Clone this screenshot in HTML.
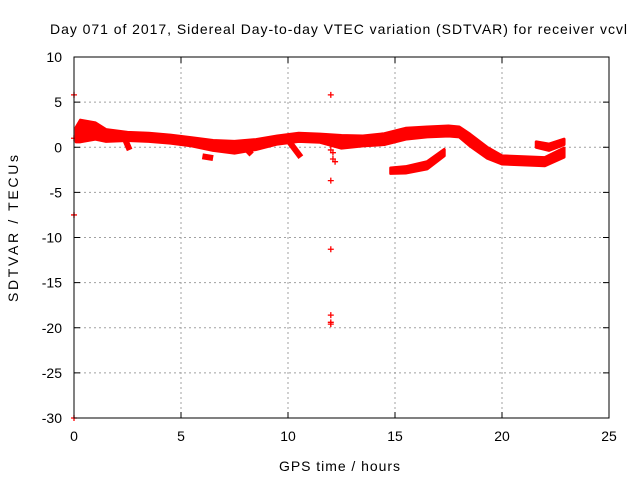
<!DOCTYPE html>
<html><head><meta charset="utf-8"><style>
body{margin:0;background:#fff}
svg text{font-family:"Liberation Sans",sans-serif;font-size:14px;fill:#000}
</style></head><body>
<svg id="chart" width="640" height="480">
<rect width="640" height="480" fill="#fff"/>
<text x="50" y="34" textLength="577" lengthAdjust="spacing">Day 071 of 2017, Sidereal Day-to-day VTEC variation (SDTVAR) for receiver vcvl</text>
<text x="279" y="471" textLength="121" lengthAdjust="spacing">GPS time / hours</text>
<text transform="translate(18,302) rotate(-90)" textLength="147" lengthAdjust="spacing">SDTVAR / TECUs</text>
<g id="grid"></g><g id="marks"></g>
<rect x="74" y="57" width="535" height="361" fill="none" stroke="#000" stroke-width="1"/>
</svg>
<script>
const xTicks=[0,5,10,15,20,25];
const yTicks=[10,5,0,-5,-10,-15,-20,-25,-30];
const mainHours=[0.1,0.3,1.0,1.5,2.5,3.5,4.5,5.5,6.5,7.5,8.5,9.5,10.5,11.5,12.5,13.5,14.5,15.5,16.5,17.5,18.0,18.5,19.3,20.0,21.0,22.0,22.9];
const mainValues=[1.4,1.8,1.8,1.3,1.2,1.1,0.9,0.6,0.2,0.0,0.3,0.8,1.1,1.0,0.6,0.7,0.9,1.5,1.7,1.8,1.7,0.8,-0.6,-1.4,-1.5,-1.6,-0.6];
const mainWidth=[1.6,2.4,1.8,1.3,0.9,0.9,0.9,0.9,1.1,1.3,1.1,0.9,0.9,0.9,1.4,1.1,1.2,1.2,1.1,1.1,1.1,1.3,1.2,0.9,0.9,0.9,1.0];
const lowHours=[14.8,15.5,16.5,17.3];
const lowValues=[-2.6,-2.5,-2.0,-0.6];
const lowWidth=[0.6,0.7,0.8,0.7];
const smallHours=[21.6,22.2,22.9];
const smallValues=[0.3,0.0,0.6];
const smallWidth=[0.6,0.7,0.6];
const spurHours=[[6.0,6.5],[10.0,10.6],[2.4,2.6],[7.9,8.3]];
const spurValues=[[-1.0,-1.2],[0.8,-1.1],[0.8,-0.3],[0.2,-0.8]];
const outHours=[0,0,0,0,12,12,12,12,12,12,12,12,12.1,12.1,12.2,12.0,12.2];
const outValues=[5.8,-7.5,-30,1.0,5.8,-3.7,-11.3,-18.6,-19.4,-19.6,1.0,0.3,-0.6,-1.3,0.9,-0.3,-1.6];
const X=h=>74+h*535/25, Y=v=>57+(10-v)*361/40;
const NS="http://www.w3.org/2000/svg";
const grid=document.getElementById('grid'),marks=document.getElementById('marks'),svg=document.getElementById('chart');
function mk(t,a,p){const e=document.createElementNS(NS,t);for(const k in a)e.setAttribute(k,a[k]);(p||grid).appendChild(e);return e;}
xTicks.forEach(t=>{const x=X(t);
 if(t>0&&t<25){const l=mk('line',{x1:x,x2:x,y1:57,y2:418,stroke:'#a0a0a0','stroke-dasharray':'2,3'});
 
 }
 mk('line',{x1:x,x2:x,y1:418,y2:412,stroke:'#000'});mk('line',{x1:x,x2:x,y1:57,y2:63,stroke:'#000'});
 const tx=mk('text',{x:x,y:441,'text-anchor':'middle'});tx.textContent=t;
 
 });
yTicks.forEach(t=>{const y=Y(t);
 if(t<10&&t>-30){const l=mk('line',{x1:74,x2:609,y1:y,y2:y,stroke:'#a0a0a0','stroke-dasharray':'2,3'});
 
 }
 mk('line',{x1:74,x2:80,y1:y,y2:y,stroke:'#000'});mk('line',{x1:609,x2:603,y1:y,y2:y,stroke:'#000'});
 const tx=mk('text',{x:62,y:y+5,'text-anchor':'end'});tx.textContent=t;
 
 });
function band(hs,vs,ws,name){let up=[],lo=[];
 hs.forEach((h,i)=>{up.push(X(h)+','+Y(vs[i]+ws[i]/2));lo.unshift(X(h)+','+Y(vs[i]-ws[i]/2));});
 const p=mk('polygon',{points:up.concat(lo).join(' '),fill:'#f00',stroke:'#f00','stroke-width':3,'stroke-linejoin':'round'},marks);
 
 }
band(mainHours,mainValues,mainWidth,'main-series-band');
band(lowHours,lowValues,lowWidth,'lower-series-band');
band(smallHours,smallValues,smallWidth,'small-series-band');
spurHours.forEach((hs,i)=>{const l=mk('line',{x1:X(hs[0]),x2:X(hs[1]),y1:Y(spurValues[i][0]),y2:Y(spurValues[i][1]),stroke:'#f00','stroke-width':6},marks);
 
 });
outHours.forEach((h,i)=>{const x=X(h),y=Y(outValues[i]);
 const p=mk('path',{d:`M${x-3} ${y}H${x+3}M${x} ${y-3}V${y+3}`,stroke:'#f00','stroke-width':1.3},marks);
 
 });
</script>
</body></html>
